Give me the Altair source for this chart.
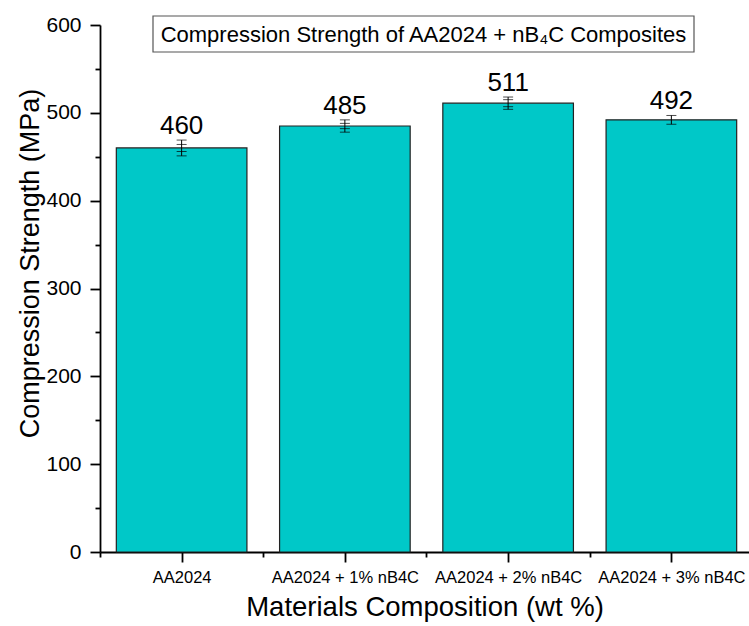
import altair as alt
import pandas as pd

# Compression strength of AA2024 / nB4C composites
categories = ["AA2024", "AA2024 + 1% nB4C", "AA2024 + 2% nB4C", "AA2024 + 3% nB4C"]
strength = [460, 485, 511, 492]          # MPa
err_outer = [9, 7, 7, 5]                 # MPa
err_inner = [4, 3, 4, 0]                 # MPa

y_major = [0, 100, 200, 300, 400, 500, 600]
y_minor = [50, 150, 250, 350, 450, 550]
x_minor = [0.5, 1.5, 2.5, 3.5]

FONT = "Liberation Sans"
BAR_COLOR = "#00C8C8"

positions = list(range(1, len(categories) + 1))
df = pd.DataFrame({
    "pos": positions,
    "cat": categories,
    "value": strength,
    "base": [0] * len(categories),
    "x0": [p - 0.4 for p in positions],
    "x1": [p + 0.4 for p in positions],
    "hi": [v + e for v, e in zip(strength, err_outer)],
    "lo": [v - e for v, e in zip(strength, err_outer)],
})

caps_rows = []
for p, v, eo, ei in zip(positions, strength, err_outer, err_inner):
    caps_rows.append({"pos": p, "y": v + eo})
    caps_rows.append({"pos": p, "y": v - eo})
    if ei > 0:
        caps_rows.append({"pos": p, "y": v + ei})
        caps_rows.append({"pos": p, "y": v - ei})
caps = pd.DataFrame(caps_rows)

xscale = alt.Scale(domain=[0.5, 4.4755], nice=False, zero=False)
yscale = alt.Scale(domain=[0, 600], nice=False)

label_expr = "[" + ",".join("'" + c + "'" for c in categories) + "][datum.value - 1]"

bars = alt.Chart(df).mark_bar(
    color=BAR_COLOR, stroke="#222222", strokeWidth=1.2
).encode(
    x=alt.X("x0:Q", scale=xscale, axis=alt.Axis(
        values=positions, labelExpr=label_expr, title="Materials Composition (wt %)",
        tickSize=10, labelPadding=7, labelFontSize=16.5, titleFontSize=27.5,
        titleFontWeight="normal", titleY=63, titleBaseline="alphabetic",
        grid=False, orient="bottom",
    )),
    x2="x1:Q",
    y=alt.Y("value:Q", scale=yscale, axis=alt.Axis(
        values=y_major, title="Compression Strength (MPa)", tickSize=10,
        labelPadding=9, labelFontSize=21, titleFontSize=27, titleFontWeight="normal",
        titleX=-62, titleY=238, titleBaseline="alphabetic", grid=False, orient="left",
    )),
    y2="base:Q",
)

stems = alt.Chart(df).mark_rule(color="black", strokeWidth=1).encode(
    x=alt.X("pos:Q", scale=xscale, axis=None),
    y=alt.Y("lo:Q", scale=yscale, axis=None),
    y2="hi:Q",
)

cap_ticks = alt.Chart(caps).mark_tick(
    color="black", orient="horizontal", size=10, thickness=1
).encode(
    x=alt.X("pos:Q", scale=xscale, axis=None),
    y=alt.Y("y:Q", scale=yscale, axis=None),
)

labels = alt.Chart(df).mark_text(
    font=FONT, fontSize=26, color="black", baseline="alphabetic", dy=-6
).encode(
    x=alt.X("pos:Q", scale=xscale, axis=None),
    y=alt.Y("hi:Q", scale=yscale, axis=None),
    text=alt.Text("value:Q"),
)

# minor ticks on both axes
minor = alt.Chart(pd.DataFrame({"xm": [x_minor[0]], "ym": [y_minor[0]]})).mark_point(opacity=0).encode(
    x=alt.X("xm:Q", scale=xscale, axis=alt.Axis(
        values=x_minor, labels=False, tickSize=5, domain=False, title=None,
        grid=False, orient="bottom")),
    y=alt.Y("ym:Q", scale=yscale, axis=alt.Axis(
        values=y_minor, labels=False, tickSize=5, domain=False, title=None,
        grid=False, orient="left")),
)

# boxed chart title
title_box = alt.Chart(pd.DataFrame({"t": ["Compression Strength of AA2024 + nB\u2084C Composites"]}))
box = title_box.mark_rect(fill="white", stroke="#555555", strokeWidth=1.2).encode(
    x=alt.value(53), x2=alt.value(594), y=alt.value(-9), y2=alt.value(27)
)
box_text = title_box.mark_text(
    font=FONT, fontSize=22, color="black", align="center", baseline="alphabetic"
).encode(x=alt.value(323.5), y=alt.value(17), text="t:N")

chart = alt.layer(minor, bars, stems, cap_ticks, labels, box, box_text).resolve_axis(
    x="independent", y="independent"
).properties(
    width=649, height=527,
    autosize=alt.AutoSizeParams(type="none"),
    padding={"left": 100, "top": 25, "right": 0, "bottom": 74},
).configure_view(stroke=None).configure_axis(
    domainColor="black", domainWidth=1.8, tickColor="black", tickWidth=1.8,
    labelColor="black", titleColor="black", labelFont=FONT, titleFont=FONT,
)

chart.save("out.html", embed_options={"renderer": "svg", "actions": False})
